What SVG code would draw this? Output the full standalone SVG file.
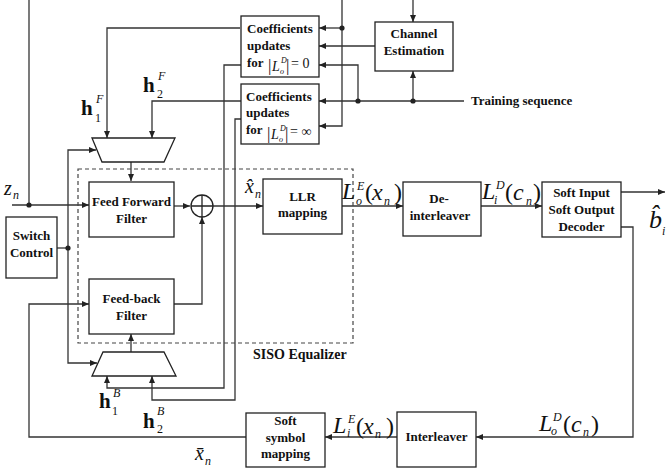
<svg xmlns="http://www.w3.org/2000/svg" width="666" height="473" viewBox="0 0 666 473">
<style>
.box{fill:#fff;stroke:#222;stroke-width:1.3}
.ln{fill:none;stroke:#333;stroke-width:1.3}
.arr{marker-end:url(#ah)}
.dot{fill:#222}
.bt{font-family:"Liberation Serif","Times New Roman",serif;font-weight:bold;font-size:13px;fill:#111;text-anchor:middle}
.bl{font-family:"Liberation Serif","Times New Roman",serif;font-weight:bold;font-size:13px;fill:#111}
.m{font-family:"Liberation Serif","Times New Roman",serif;font-style:italic;fill:#111}
.n{font-style:normal}
.s{font-size:12px}
.hb{font-family:"Liberation Serif","Times New Roman",serif;font-weight:bold;font-size:21px;fill:#111}
.hs{font-size:12px;font-weight:normal}
</style>
<defs>
<marker id="ah" markerUnits="userSpaceOnUse" markerWidth="7" markerHeight="6" refX="7" refY="3" orient="auto">
<path d="M0,0 L7,3 L0,6 z" fill="#222"/>
</marker>
</defs>

<g id="connectors">
<path class="ln arr" d="M12,205 H89"/>
<path class="ln" d="M29,205 V0"/>
<path class="ln" d="M57,248 H68"/>
<path class="ln arr" d="M68,248 V150 H96"/>
<path class="ln arr" d="M68,248 V363 H97"/>
<path class="ln arr" d="M131,162 V181"/>
<path class="ln arr" d="M174,206 H190"/>
<path class="ln arr" d="M174,304 H202 V217"/>
<path class="ln arr" d="M213,206 H263"/>
<path class="ln arr" d="M342,206 H403"/>
<path class="ln arr" d="M481,206 H542"/>
<path class="ln arr" d="M621,192 H665"/>
<path class="ln arr" d="M621,227 H633 V437 H476"/>
<path class="ln arr" d="M397,437 H325"/>
<path class="ln arr" d="M246,437 H29 V304 H89"/>
<path class="ln arr" d="M131,352 V334"/>
<path class="ln arr" d="M241,65 H224 V388 H107 V376"/>
<path class="ln arr" d="M241,119 H235 V400 H152 V376"/>
<path class="ln arr" d="M240,28 H107 V138"/>
<path class="ln arr" d="M241,101 H152 V138"/>
<path class="ln arr" d="M342,0 V126 H319"/>
<path class="ln arr" d="M342,28 H319"/>
<path class="ln arr" d="M375,46 H319"/>
<path class="ln arr" d="M358,101 V65 H319"/>
<path class="ln arr" d="M464,101 H319"/>
<path class="ln arr" d="M413,101 V71"/>
<path class="ln arr" d="M413,0 V22"/>
<circle class="dot" cx="29" cy="205" r="2.6"/>
<circle class="dot" cx="68" cy="248" r="2.6"/>
<circle class="dot" cx="342" cy="28" r="2.6"/>
<circle class="dot" cx="358" cy="101" r="2.6"/>
<circle class="dot" cx="413" cy="101" r="2.6"/>
</g>

<g id="siso-equalizer">
<rect x="78" y="169" width="275" height="174" fill="none" stroke="#444" stroke-width="1.2" stroke-dasharray="4,3"/>
<text class="bl" x="253" y="359" style="font-size:14px">SISO Equalizer</text>
</g>

<g id="coef1">
<rect class="box" x="241" y="16" width="78" height="61"/>
<text class="bl" x="247" y="33">Coefficients</text>
<text class="bl" x="247" y="50">updates</text>
<text class="bl" x="247" y="67">for</text>
<text class="m" style="font-size:14px"><tspan class="n" x="268" y="71" style="font-size:17px">|</tspan><tspan x="272" y="71">L</tspan><tspan x="281" y="63" style="font-size:8px">D</tspan><tspan x="280" y="74" style="font-size:8px">o</tspan><tspan class="n" x="286" y="71" style="font-size:17px">|</tspan><tspan class="n" x="291" y="68">= 0</tspan></text>
</g>

<g id="coef2">
<rect class="box" x="241" y="84" width="78" height="60"/>
<text class="bl" x="246" y="101">Coefficients</text>
<text class="bl" x="246" y="117">updates</text>
<text class="bl" x="246" y="134">for</text>
<text class="m" style="font-size:14px"><tspan class="n" x="267" y="139" style="font-size:17px">|</tspan><tspan x="271" y="139">L</tspan><tspan x="280" y="131" style="font-size:8px">D</tspan><tspan x="279" y="142" style="font-size:8px">o</tspan><tspan class="n" x="285" y="139" style="font-size:17px">|</tspan><tspan class="n" x="290" y="136">= ∞</tspan></text>
</g>

<g id="channel-estimation">
<rect class="box" x="375" y="22" width="78" height="49"/>
<text class="bt" x="414" y="38">Channel</text>
<text class="bt" x="414" y="55">Estimation</text>
</g>

<g id="training">
<text class="bl" x="471" y="105">Training sequence</text>
</g>

<g id="switch-control">
<rect class="box" x="6" y="217" width="51" height="61"/>
<text class="bt" x="31.5" y="240">Switch</text>
<text class="bt" x="31.5" y="257">Control</text>
</g>

<g id="mux-f">
<polygon points="92,138 175,138 164,162 102,162" fill="#fff" stroke="#222" stroke-width="1.3"/>
</g>
<g id="mux-b">
<polygon points="103,352 164,352 176,376 92,376" fill="#fff" stroke="#222" stroke-width="1.3"/>
</g>

<g id="ff-filter">
<rect class="box" x="89" y="182" width="85" height="55"/>
<text class="bt" x="131.5" y="206">Feed Forward</text>
<text class="bt" x="131.5" y="223">Filter</text>
</g>

<g id="fb-filter">
<rect class="box" x="89" y="279" width="85" height="55"/>
<text class="bt" x="131.5" y="303">Feed-back</text>
<text class="bt" x="131.5" y="320">Filter</text>
</g>

<g id="sum">
<circle cx="202" cy="206" r="11" fill="#fff" stroke="#222" stroke-width="1.3"/>
<path d="M191,206 H213 M202,195 V217" stroke="#222" stroke-width="1.3"/>
</g>

<g id="llr">
<rect class="box" x="263" y="179" width="79" height="55"/>
<text class="bt" x="302.5" y="201">LLR</text>
<text class="bt" x="302.5" y="217">mapping</text>
</g>

<g id="deinterleaver">
<rect class="box" x="403" y="182" width="78" height="54"/>
<text class="bt" x="439" y="203">De-</text>
<text class="bt" x="440" y="220">interleaver</text>
</g>

<g id="siso-decoder">
<rect class="box" x="542" y="182" width="79" height="55"/>
<text class="bt" x="581.5" y="197">Soft Input</text>
<text class="bt" x="581.5" y="214">Soft Output</text>
<text class="bt" x="581.5" y="231">Decoder</text>
</g>

<g id="interleaver">
<rect class="box" x="397" y="412" width="79" height="55"/>
<text class="bt" x="436.5" y="441">Interleaver</text>
</g>

<g id="soft-symbol-mapping">
<rect class="box" x="246" y="413" width="79" height="54"/>
<text class="bt" x="285.5" y="425">Soft</text>
<text class="bt" x="285.5" y="442">symbol</text>
<text class="bt" x="285.5" y="458">mapping</text>
</g>

<g id="labels">
<text class="m" style="font-size:20px"><tspan x="4" y="195">z</tspan><tspan class="s" x="13" y="199">n</tspan></text>

<text class="m" style="font-size:20px"><tspan x="245" y="193">x̂</tspan><tspan class="s" x="255" y="198">n</tspan></text>

<text class="m" style="font-size:24px"><tspan x="342" y="199">L</tspan><tspan class="s" x="357" y="190">E</tspan><tspan class="s" x="356" y="205">o</tspan><tspan class="n" x="365" y="200">(</tspan><tspan x="372" y="200">x</tspan><tspan class="s" x="384" y="205">n</tspan><tspan class="n" x="394" y="200">)</tspan></text>

<text class="m" style="font-size:24px"><tspan x="482" y="199">L</tspan><tspan class="s" x="496" y="189">D</tspan><tspan class="s" x="494" y="204">i</tspan><tspan class="n" x="505" y="200">(</tspan><tspan x="513" y="200">c</tspan><tspan class="s" x="526" y="205">n</tspan><tspan class="n" x="533" y="200">)</tspan></text>

<text class="m" style="font-size:26px"><tspan x="649" y="228">b̂</tspan><tspan class="s" x="662" y="235">i</tspan></text>

<text class="m" style="font-size:24px"><tspan x="539" y="431">L</tspan><tspan class="s" x="553" y="421">D</tspan><tspan class="s" x="551" y="435">o</tspan><tspan class="n" x="563" y="432">(</tspan><tspan x="571" y="432">c</tspan><tspan class="s" x="583" y="436">n</tspan><tspan class="n" x="591" y="432">)</tspan></text>

<text class="m" style="font-size:24px"><tspan x="333" y="433">L</tspan><tspan class="s" x="348" y="423">E</tspan><tspan class="s" x="347" y="437">i</tspan><tspan class="n" x="356" y="434">(</tspan><tspan x="363" y="434">x</tspan><tspan class="s" x="375" y="438">n</tspan><tspan class="n" x="386" y="434">)</tspan></text>

<text class="m" style="font-size:20px"><tspan x="195" y="460">x̄</tspan><tspan class="s" x="205" y="465">n</tspan></text>

<text class="hb"><tspan x="81" y="115">h</tspan><tspan class="m hs" x="96" y="103">F</tspan><tspan class="hs" x="95" y="122">1</tspan></text>
<text class="hb"><tspan x="143" y="92">h</tspan><tspan class="m hs" x="158" y="80">F</tspan><tspan class="hs" x="157" y="98">2</tspan></text>
<text class="hb"><tspan x="99" y="408">h</tspan><tspan class="m hs" x="113" y="397">B</tspan><tspan class="hs" x="112" y="415">1</tspan></text>
<text class="hb"><tspan x="143" y="428">h</tspan><tspan class="m hs" x="157" y="415">B</tspan><tspan class="hs" x="157" y="433">2</tspan></text>
</g>
</svg>
